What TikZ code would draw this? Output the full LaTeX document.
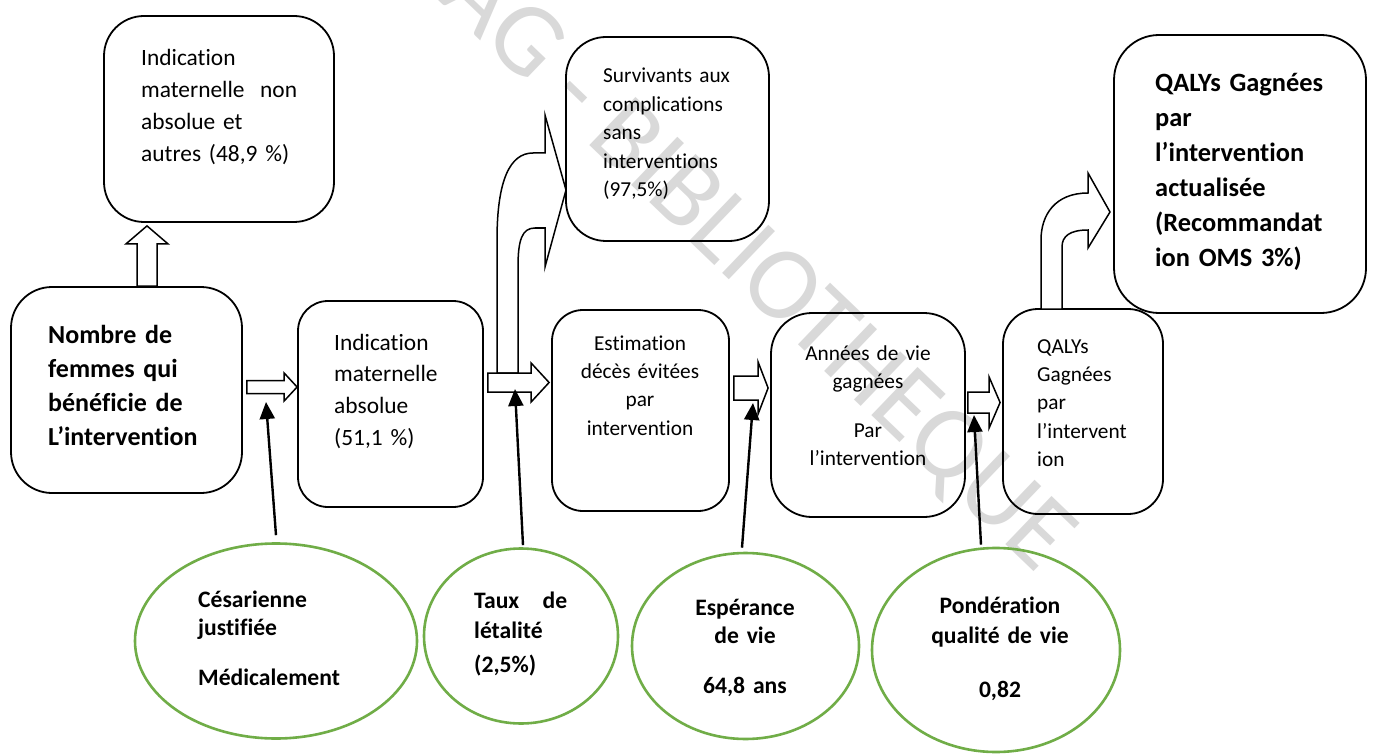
\documentclass[tikz,border=0pt]{standalone}
\usepackage{fontspec}
\setmainfont{Carlito}[Ligatures={NoCommon,NoContextual}]
\usetikzlibrary{arrows.meta,calc,shapes.geometric}

\definecolor{ovalgreen}{HTML}{70AD47}

\begin{document}
\begin{tikzpicture}[
  x=1pt, y=1pt,
  >={Triangle[width=15pt,length=17pt]},
  box/.style={draw, line width=1.8pt, rounded corners=34pt, inner sep=0pt},
  oval/.style={draw=ovalgreen, line width=2.6pt, ellipse, inner sep=0pt},
  blk/.style={draw, line width=1.5pt, fill=white},
  ptr/.style={->, line width=2.4pt},
  txtleft/.style={inner sep=0pt, text width=260pt, align=left, anchor=base west},
  txtmid/.style={inner sep=0pt, text width=220pt, align=center, anchor=base},
  fbig/.style={font=\fontsize{23.4}{31.7}\selectfont},
  fsmall/.style={font=\fontsize{21.3}{28.4}\selectfont},
  fhead/.style={font=\fontsize{26}{34.3}\selectfont\bfseries},
  foval/.style={font=\fontsize{23.6}{28.5}\selectfont\bfseries},
  wmark/.style={text=gray!30, font=\fontsize{104}{104}\selectfont, inner sep=0pt},
  harrow/.style n args={3}{blk, to path={let \p1=(\tikztostart), \p2=(\tikztotarget) in
    (\x1,\y1+#1) -- (\x2-#3,\y1+#1) -- (\x2-#3,\y1+#2) -- (\x2,\y1)
    -- (\x2-#3,\y1-#2) -- (\x2-#3,\y1-#1) -- (\x1,\y1-#1) -- cycle}},
  varrow/.style n args={3}{blk, to path={let \p1=(\tikztostart), \p2=(\tikztotarget) in
    (\x1-#1,\y1) -- (\x1-#1,\y2-#3) -- (\x1-#2,\y2-#3) -- (\x1,\y2)
    -- (\x1+#2,\y2-#3) -- (\x1+#1,\y2-#3) -- (\x1+#1,\y1) -- cycle}},
]
  \useasboundingbox (0,0) rectangle (1373,-754);

  % library stamp behind everything
  \begin{scope}
    \clip (0,0) rectangle (1373,-754);
    \fill[white] (0,0) rectangle (1373,-754);
    \node[wmark, rotate=-43.8] (wm) at (701,-215) {CESAG - BIBLIOTHEQUE};
  \end{scope}

  \node[box, rounded corners=40pt, minimum width=230pt, minimum height=206pt] (nonabs)  at (219,-119)    {};
  \node[box, rounded corners=41pt, minimum width=231pt, minimum height=206pt] (femmes)  at (126.5,-390)  {};
  \node[box, rounded corners=30pt, minimum width=185pt, minimum height=206pt] (absolue) at (390.5,-404)  {};
  \node[box, rounded corners=31pt, minimum width=177pt, minimum height=201pt] (deces)   at (640.5,-410.5){};
  \node[box, rounded corners=41pt, minimum width=194pt, minimum height=204pt] (annees)  at (868,-415)    {};
  \node[box, rounded corners=35pt, minimum width=160pt, minimum height=205pt] (qalys)   at (1083,-411.5) {};
  \node[box, rounded corners=45pt, minimum width=252pt, minimum height=278pt] (actual)  at (1240,-174)   {};
  \node[box, rounded corners=40pt, minimum width=203pt, minimum height=204pt] (surv)    at (667.5,-139)  {};

  \node[oval, minimum width=282pt, minimum height=195pt] (cesar)  at (276,-641)   {};
  \node[oval, minimum width=194pt, minimum height=175pt] (taux)   at (521,-636)   {};
  \node[oval, minimum width=227pt, minimum height=186pt] (esper)  at (745.5,-646) {};
  \node[oval, minimum width=248pt, minimum height=204pt] (ponder) at (996,-650)   {};

  % bent arrows
  \draw[blk] (497,-373) -- (497,-240) .. controls (497,-180) and (510,-153) .. (533,-153)
    -- (545,-153) -- (545,-115) -- (566,-190) -- (545,-267) -- (545,-228) -- (535,-228)
    .. controls (522,-228) and (518,-240) .. (518,-267) -- (518,-373) -- cycle;
  \draw[blk] (1041,-309) -- (1041,-240) .. controls (1041,-215) and (1055,-193) .. (1088,-193)
    -- (1088,-173) -- (1110,-212) -- (1088,-248) -- (1088,-230)
    .. controls (1070,-230) and (1062,-236) .. (1062,-247) -- (1062,-309) -- cycle;

  % straight block arrows
  \draw[varrow={10}{21}{18}] ([xshift=20.5]femmes.north) to ([yshift=-3]nonabs.south);
  \draw[harrow={6.5}{14}{13}] ([shift={(4,3)}]femmes.east) to (absolue.west);
  \draw[harrow={9.5}{19.5}{18}] ([shift={(4,21.5)}]absolue.east) to ([xshift=-2]deces.west);
  \draw[harrow={12}{26}{10}] ([shift={(4,22.5)}]deces.east) to ([xshift=-2]annees.west);
  \draw[harrow={10.5}{25.5}{11}] ([shift={(2,12.5)}]annees.east) to ([xshift=-2]qalys.west);

  % parameters pointing at the arrows
  \coordinate (t1) at (266,-402);
  \coordinate (t2) at (515,-389);
  \coordinate (t3) at (753,-403);
  \coordinate (t4) at (974,-415);
  \draw[ptr] ([yshift=7]cesar.north) -- (t1);
  \draw[ptr] ([shift={(2,2)}]taux.north) -- (t2);
  \draw[ptr] ([shift={(-3.5,4)}]esper.north) -- (t3);
  \draw[ptr] ([shift={(-15,2)}]ponder.north) -- (t4);

  \node[txtleft, fbig]  (nonabsT)  at (141,-66)  {Indication\\maternelle~~non\\absolue et\\autres (48,9 \%)};
  \node[txtleft, fhead] (femmesT)  at (48,-343)  {Nombre de\\femmes qui\\bénéficie de\\L’intervention};
  \node[txtleft, fbig]  (absolueT) at (334,-350) {Indication\\maternelle\\absolue\\(51,1 \%)};
  \node[txtmid, fsmall] (decesT)   at (640,-350) {Estimation\\décès évitées\\par\\intervention};
  \node[txtmid, fsmall] (anneesT)  at (868,-360) {Années de vie\\gagnées\\[20.5pt]Par\\l’intervention};
  \node[txtleft, fsmall] (qalysT)  at (1037,-353) {QALYs\\Gagnées\\par\\l’intervent\\ion};
  \node[txtleft, fhead, font=\fontsize{26.4}{35}\selectfont\bfseries] (actualT) at (1155,-92)
    {QALYs Gagnées\\par\\l’intervention\\actualisée\\(Recommandat\\ion OMS 3\%)};
  \node[txtleft, fsmall] (survT)   at (603,-83)  {Survivants aux\\complications\\sans\\interventions\\(97,5\%)};

  \node[txtleft, foval] (cesarT)  at (198,-607)  {Césarienne\\justifiée\\[21.5pt]Médicalement};
  \node[txtleft, foval] (tauxT)   at (474,-608)  {\makebox[93pt]{Taux\hfill de}\\[1.5pt]létalité\\[5.5pt](2,5\%)};
  \node[txtmid, foval]  (esperT)  at (745,-615)  {Espérance\\de vie\\[21.5pt]64,8 ans};
  \node[txtmid, foval]  (ponderT) at (1000,-613) {Pondération\\[1.5pt]qualité de vie\\[25.5pt]0,82};
\end{tikzpicture}
\end{document}
